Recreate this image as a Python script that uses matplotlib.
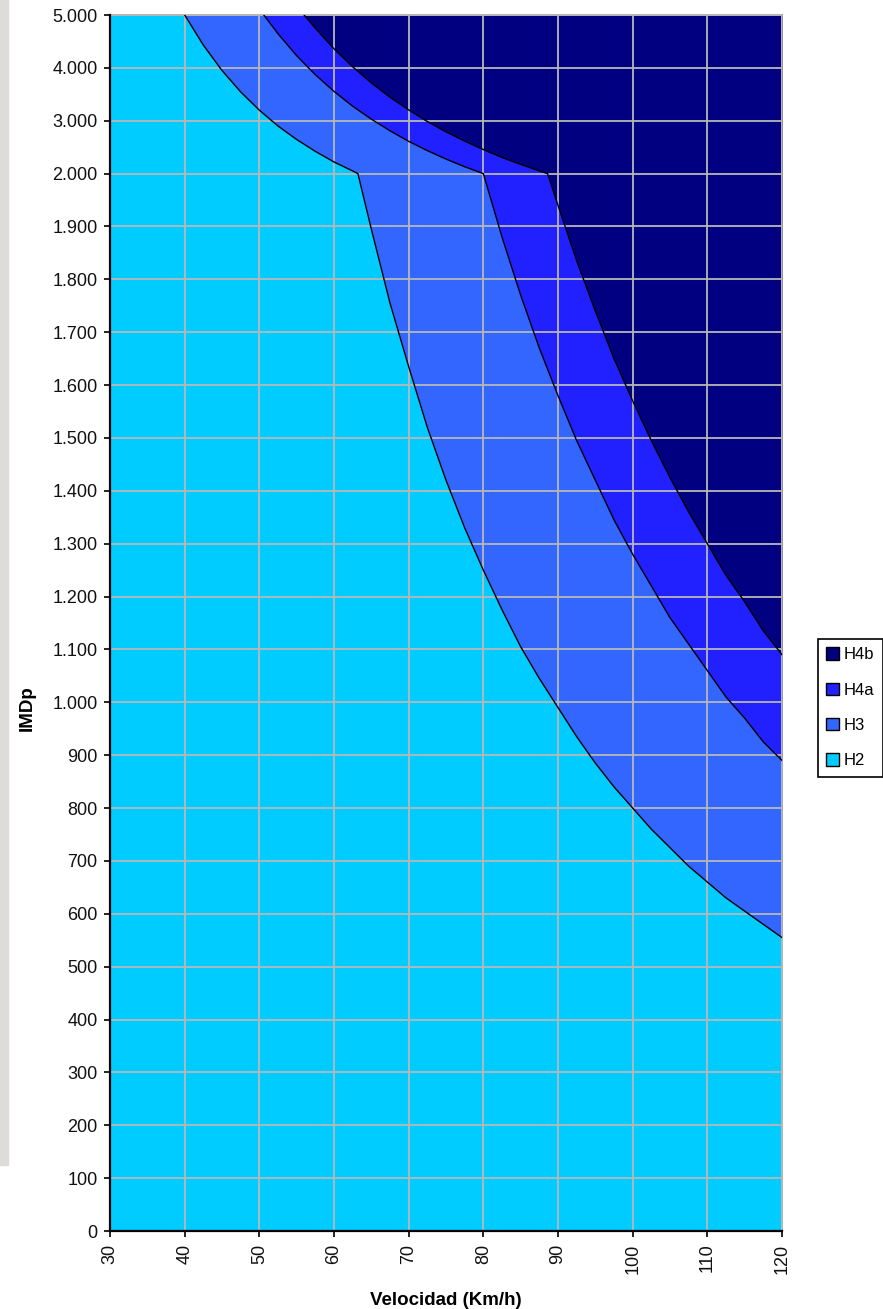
import numpy as np
import matplotlib
matplotlib.use("Agg")
import matplotlib.pyplot as plt
from matplotlib.patches import Patch, Rectangle
from matplotlib.ticker import FuncFormatter

plt.rcParams["font.family"] = ["Liberation Sans", "DejaVu Sans"]

# axis categories
VEL_TICKS = [30, 40, 50, 60, 70, 80, 90, 100, 110, 120]
IMDP_TICKS = [0, 100, 200, 300, 400, 500, 600, 700, 800, 900, 1000, 1100, 1200,
              1300, 1400, 1500, 1600, 1700, 1800, 1900, 2000, 3000, 4000, 5000]

# boundary H2 / H3
V_H3 = [40, 42.5, 45, 47.5, 50, 52.5, 55, 57.5, 60, 62.5, 63.2, 65, 67.5, 70, 72.5,
        75, 77.5, 80, 82.5, 85, 87.5, 90, 92.5, 95, 97.5, 100, 102.5, 105, 107.5,
        110, 112.5, 115, 117.5, 120]
IMD_H3 = [5000, 4430, 3950, 3545, 3200, 2900, 2645, 2420, 2220, 2050, 2000, 1895,
          1755, 1635, 1520, 1420, 1330, 1250, 1175, 1105, 1045, 990, 935, 885, 840,
          800, 760, 725, 690, 660, 630, 605, 580, 555]

# boundary H3 / H4a
V_H4A = [50.6, 52.5, 55, 57.5, 60, 62.5, 65, 67.5, 70, 72.5, 75, 77.5, 80, 82.5,
         85, 87.5, 90, 92.5, 95, 97.5, 100, 102.5, 105, 107.5, 110, 112.5, 115,
         117.5, 120]
IMD_H4A = [5000, 4645, 4230, 3870, 3555, 3275, 3030, 2810, 2610, 2435, 2275, 2130,
           2000, 1880, 1770, 1670, 1580, 1495, 1420, 1345, 1280, 1220, 1160, 1110,
           1060, 1010, 970, 925, 890]

# boundary H4a / H4b
V_H4B = [56, 57.5, 60, 62.5, 65, 67.5, 70, 72.5, 75, 77.5, 80, 82.5, 85, 87.5,
         88.6, 90, 92.5, 95, 97.5, 100, 102.5, 105, 107.5, 110, 112.5, 115, 117.5,
         120]
IMD_H4B = [5000, 4750, 4360, 4020, 3715, 3445, 3205, 2985, 2790, 2615, 2455, 2305,
           2175, 2050, 2000, 1940, 1835, 1740, 1650, 1570, 1495, 1425, 1360, 1300,
           1240, 1190, 1135, 1090]

LABELS = ["H4b", "H4a", "H3", "H2"]
COLORS = ["#000080", "#2121FF", "#3366FF", "#00CCFF"]


def fwd(y):
    y = np.asarray(y, dtype=float)
    return np.where(y <= 2000, y / 100.0, 20 + (y - 2000) / 1000.0)


def inv(t):
    t = np.asarray(t, dtype=float)
    return np.where(t <= 20, t * 100.0, 2000 + (t - 20) * 1000.0)


fig = plt.figure(figsize=(8.83, 13.09), dpi=100)
fig.patches.append(Rectangle((0, 0.11), 8 / 883, 0.89, transform=fig.transFigure,
                             color="#dedcd8", zorder=0))
ax = fig.add_axes([110 / 883, 78 / 1309, 672 / 883, 1216 / 1309])
ax.set_yscale("function", functions=(fwd, inv))

vmin, vmax = min(VEL_TICKS), max(VEL_TICKS)
ytop = max(IMDP_TICKS)
ax.fill_between([vmin, vmax], 0, ytop, color=COLORS[3], lw=0, zorder=1)
ax.fill_between(V_H3, IMD_H3, ytop, color=COLORS[2], lw=0, zorder=1)
ax.fill_between(V_H4A, IMD_H4A, ytop, color=COLORS[1], lw=0, zorder=1)
ax.fill_between(V_H4B, IMD_H4B, ytop, color=COLORS[0], lw=0, zorder=1)

ax.grid(True, color="#b8b8b8", lw=1.3, zorder=2)
ax.set_axisbelow(False)
for xs, ys in [(V_H3, IMD_H3), (V_H4A, IMD_H4A), (V_H4B, IMD_H4B)]:
    ax.plot(xs, ys, color="black", lw=1.0, zorder=3)

ax.set_xlim(vmin, vmax)
ax.set_ylim(0, ytop)
ax.set_xticks(VEL_TICKS)
ax.set_yticks(IMDP_TICKS)
ax.yaxis.set_major_formatter(FuncFormatter(lambda v, p: f"{int(round(v)):,}".replace(",", ".")))
ax.minorticks_off()
ax.tick_params(axis="x", labelrotation=90)
ax.tick_params(direction="out", length=4, width=1.2, labelsize=13,
               labelcolor="#111111", pad=5)

for side in ["left", "bottom"]:
    ax.spines[side].set_color("black")
    ax.spines[side].set_linewidth(1.6)
    ax.spines[side].set_zorder(4)
for side in ["top", "right"]:
    ax.spines[side].set_color("#a8a8a8")
    ax.spines[side].set_linewidth(1.2)

ax.set_xlabel("Velocidad (Km/h)", fontsize=13.5, fontweight="bold", labelpad=13)
fig.text(27 / 883, 1 - 708 / 1309, "IMDp", fontsize=13.5, fontweight="bold",
         rotation=90, ha="center", va="center")

handles = [Patch(facecolor=c, edgecolor="black", lw=1) for c in COLORS]
leg = fig.legend(handles, LABELS, loc="upper left", bbox_to_anchor=(818 / 883, 1 - 639 / 1309),
                 bbox_transform=fig.transFigure, borderaxespad=0, fancybox=False,
                 edgecolor="black", framealpha=1, fontsize=12, handlelength=0.75,
                 handleheight=0.75, handletextpad=0.3, labelspacing=1.22, borderpad=0.5)
leg.get_frame().set_linewidth(1.2)

fig.savefig("out.png", dpi=100)
